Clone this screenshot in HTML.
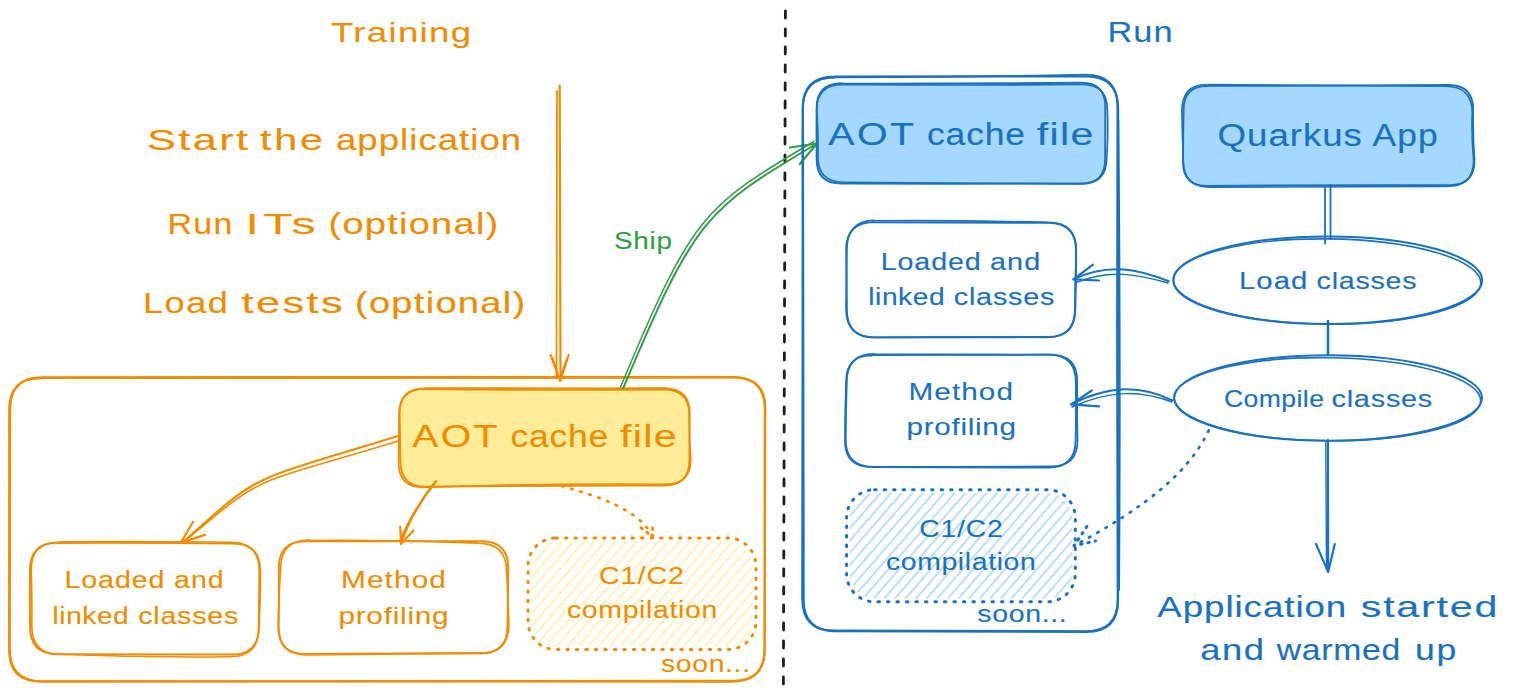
<!DOCTYPE html>
<html><head><meta charset="utf-8"><style>
html,body{margin:0;padding:0;background:#fff;width:1517px;height:696px;overflow:hidden}
svg{display:block}
text{font-family:"Liberation Sans",sans-serif}
</style></head><body>
<svg width="1517" height="696" viewBox="0 0 1517 696">
<defs>
<pattern id="hatchY" patternUnits="userSpaceOnUse" width="8" height="8" patternTransform="rotate(41)">
<line x1="4" y1="0" x2="4" y2="8" stroke="#ffec99" stroke-width="1.35"/></pattern>
<pattern id="hatchB" patternUnits="userSpaceOnUse" width="8" height="8" patternTransform="rotate(41)">
<line x1="4" y1="0" x2="4" y2="8" stroke="#a5d8ff" stroke-width="1.55"/></pattern>
</defs>
<line x1="785.4" y1="11" x2="783.4" y2="684" stroke="#1e1e1e" stroke-width="2.8" stroke-dasharray="7 11" stroke-linecap="round"/>
<text transform="translate(331.0,41.7) scale(1.308,1)" x="0" y="0" font-size="28" fill="#f08c00" stroke="#f08c00" stroke-width="0.1" textLength="107.1" lengthAdjust="spacing">Training</text>
<text transform="translate(147.0,150) scale(1.492,1)" x="0" y="0" font-size="29" fill="#f08c00" stroke="#f08c00" stroke-width="0.15" textLength="67.7" lengthAdjust="spacing">Start</text>
<text transform="translate(260.0,150) scale(1.429,1)" x="0" y="0" font-size="29" fill="#f08c00" stroke="#f08c00" stroke-width="0.15" textLength="44.1" lengthAdjust="spacing">the</text>
<text transform="translate(336.0,150) scale(1.260,1)" x="0" y="0" font-size="29" fill="#f08c00" stroke="#f08c00" stroke-width="0.15" textLength="146.9" lengthAdjust="spacing">application</text>
<text transform="translate(167.5,234) scale(1.174,1)" x="0" y="0" font-size="29" fill="#f08c00" stroke="#f08c00" stroke-width="0.15" textLength="55.4" lengthAdjust="spacing">Run</text>
<text transform="translate(245.6,234) scale(1.660,1)" x="0" y="0" font-size="29" fill="#f08c00" stroke="#f08c00" stroke-width="0.15" textLength="42.1" lengthAdjust="spacing">ITs</text>
<text transform="translate(328.5,234) scale(1.312,1)" x="0" y="0" font-size="29" fill="#f08c00" stroke="#f08c00" stroke-width="0.15" textLength="129.4" lengthAdjust="spacing">(optional)</text>
<text transform="translate(142.9,312.5) scale(1.247,1)" x="0" y="0" font-size="29" fill="#f08c00" stroke="#f08c00" stroke-width="0.15" textLength="68.2" lengthAdjust="spacing">Load</text>
<text transform="translate(241.5,312.5) scale(1.496,1)" x="0" y="0" font-size="29" fill="#f08c00" stroke="#f08c00" stroke-width="0.15" textLength="67.7" lengthAdjust="spacing">tests</text>
<text transform="translate(355.0,312.5) scale(1.315,1)" x="0" y="0" font-size="29" fill="#f08c00" stroke="#f08c00" stroke-width="0.15" textLength="129.4" lengthAdjust="spacing">(optional)</text>
<path d="M559.7,85.5 L560.5,380" fill="none" stroke="#f08c00" stroke-width="2.2" stroke-linecap="round" stroke-linejoin="round"/>
<path d="M557.0,91 L556.5,378" fill="none" stroke="#f08c00" stroke-width="1.8" stroke-linecap="round" stroke-linejoin="round"/>
<path d="M550.6,355 L560.2,380.8 L568.7,355" fill="none" stroke="#f08c00" stroke-width="2.2" stroke-linecap="round" stroke-linejoin="round"/>
<path d="M552.5,357 L559.5,379 L567,358" fill="none" stroke="#f08c00" stroke-width="1.4" stroke-linecap="round" stroke-linejoin="round"/>
<path d="M42.1,377.3 Q387.4,377.5 732.8,377.2 Q764.9,377.2 764.9,409.3 Q764.6,529.3 764.5,649.4 Q764.5,681.5 732.4,681.5 Q387.1,681.3 41.8,681.4 Q9.7,681.4 9.7,649.3 Q9.4,529.3 10.0,409.4 Q10.0,377.3 42.4,377.4" fill="none" stroke="#f08c00" stroke-width="2.3" stroke-linecap="round"/>
<path d="M40.2,378.2 Q387.3,377.7 734.3,377.5 Q765.4,377.5 765.4,408.6 Q765.0,529.1 764.7,649.6 Q764.7,680.7 733.6,680.7 Q386.9,680.0 40.1,681.5 Q9.0,681.5 9.0,650.3 Q9.0,529.8 9.1,409.3 Q9.1,378.2 40.1,378.5" fill="none" stroke="#f08c00" stroke-width="1.8399999999999999" stroke-linecap="round"/>
<rect x="399.5" y="388" width="290.1" height="98" rx="25" fill="#ffec99"/>
<path d="M425.1,388.2 Q544.6,388.5 664.1,388.3 Q689.6,388.3 689.6,413.8 Q689.4,437.0 689.5,460.1 Q689.5,485.6 664.0,485.6 Q544.9,485.3 425.8,486.8 Q400.3,486.8 400.3,461.2 Q400.0,437.5 399.5,413.8 Q399.5,388.2 424.4,388.4" fill="none" stroke="#f08c00" stroke-width="2" stroke-linecap="round"/>
<path d="M424.0,389.2 Q544.2,390.6 664.3,389.6 Q689.2,389.6 689.2,414.5 Q688.9,436.9 690.9,459.3 Q690.9,484.2 666.0,484.2 Q544.7,483.0 423.3,487.5 Q398.5,487.5 398.5,462.6 Q398.8,438.4 399.1,414.1 Q399.1,389.2 425.0,388.8" fill="none" stroke="#f08c00" stroke-width="1.6" stroke-linecap="round"/>
<text transform="translate(412.3,447) scale(1.262,1)" x="0" y="0" font-size="31" fill="#f08c00" stroke="#f08c00" stroke-width="0.15" textLength="67.5" lengthAdjust="spacing">AOT</text>
<text transform="translate(510.4,447) scale(1.143,1)" x="0" y="0" font-size="31" fill="#f08c00" stroke="#f08c00" stroke-width="0.15" textLength="85.5" lengthAdjust="spacing">cache</text>
<text transform="translate(620.0,447) scale(1.334,1)" x="0" y="0" font-size="31" fill="#f08c00" stroke="#f08c00" stroke-width="0.15" textLength="42.6" lengthAdjust="spacing">file</text>
<path d="M57.5,542.9 Q145.1,542.5 232.8,543.6 Q260.2,543.6 260.2,571.1 Q260.3,599.1 258.9,627.1 Q258.9,654.6 231.4,654.6 Q144.5,654.5 57.5,654.3 Q30.1,654.3 30.1,626.8 Q29.7,598.6 30.0,570.4 Q30.0,542.9 57.9,542.6" fill="none" stroke="#f08c00" stroke-width="2" stroke-linecap="round"/>
<path d="M59.6,541.8 Q145.2,541.0 230.8,542.2 Q259.2,542.2 259.2,570.6 Q258.9,599.4 258.7,628.3 Q258.7,656.7 230.3,656.7 Q145.2,657.7 60.2,654.3 Q31.8,654.3 31.8,625.9 Q32.2,598.1 31.2,570.2 Q31.2,541.8 58.2,542.7" fill="none" stroke="#f08c00" stroke-width="1.6" stroke-linecap="round"/>
<text transform="translate(64.5,588.2) scale(1.195,1)" x="0" y="0" font-size="24" fill="#f08c00" stroke="#f08c00" stroke-width="0.15" textLength="83.7" lengthAdjust="spacing">Loaded</text>
<text transform="translate(174.1,588.2) scale(1.187,1)" x="0" y="0" font-size="24" fill="#f08c00" stroke="#f08c00" stroke-width="0.15" textLength="41.8" lengthAdjust="spacing">and</text>
<text transform="translate(52.5,624) scale(1.169,1)" x="0" y="0" font-size="24" fill="#f08c00" stroke="#f08c00" stroke-width="0.15" textLength="65.2" lengthAdjust="spacing">linked</text>
<text transform="translate(138.2,624) scale(1.196,1)" x="0" y="0" font-size="24" fill="#f08c00" stroke="#f08c00" stroke-width="0.15" textLength="83.7" lengthAdjust="spacing">classes</text>
<path d="M305.4,541.2 Q393.5,541.3 481.6,541.3 Q508.2,541.3 508.2,567.9 Q508.1,597.3 507.5,626.7 Q507.5,653.3 480.9,653.3 Q393.1,653.3 305.2,654.1 Q278.6,654.1 278.6,627.5 Q279.2,597.7 278.8,567.8 Q278.8,541.2 305.4,541.3" fill="none" stroke="#f08c00" stroke-width="2" stroke-linecap="round"/>
<path d="M309.2,540.5 Q393.6,539.6 478.0,543.1 Q506.6,543.1 506.6,571.7 Q507.9,598.1 508.9,624.5 Q508.9,653.1 480.4,653.1 Q393.6,654.2 306.8,654.9 Q278.2,654.9 278.2,626.3 Q278.5,597.7 280.6,569.0 Q280.6,540.5 308.9,539.7" fill="none" stroke="#f08c00" stroke-width="1.6" stroke-linecap="round"/>
<text transform="translate(341.0,587.6) scale(1.242,1)" x="0" y="0" font-size="24" fill="#f08c00" stroke="#f08c00" stroke-width="0.1" textLength="84.5" lengthAdjust="spacing">Method</text>
<text transform="translate(338.4,623.5) scale(1.243,1)" x="0" y="0" font-size="24" fill="#f08c00" stroke="#f08c00" stroke-width="0.1" textLength="88.7" lengthAdjust="spacing">profiling</text>
<rect x="531" y="541" width="222" height="105.5" rx="26" fill="url(#hatchY)"/>
<rect x="528" y="538" width="228" height="111.5" rx="28" fill="none" stroke="#f08c00" stroke-width="3" stroke-dasharray="1.5 8" stroke-linecap="round"/>
<text transform="translate(599.0,583.6) scale(1.195,1)" x="0" y="0" font-size="24" fill="#f08c00" stroke="#f08c00" stroke-width="0.1" textLength="71.1" lengthAdjust="spacing">C1/C2</text>
<text transform="translate(567.0,618) scale(1.186,1)" x="0" y="0" font-size="24" fill="#f08c00" stroke="#f08c00" stroke-width="0.1" textLength="126.7" lengthAdjust="spacing">compilation</text>
<text transform="translate(661.0,672) scale(1.184,1)" x="0" y="0" font-size="24" fill="#f08c00" stroke="#f08c00" stroke-width="0.1" textLength="75.2" lengthAdjust="spacing">soon...</text>
<path d="M398,436 C244.1,483.7 264.9,469.4 182,543" fill="none" stroke="#f08c00" stroke-width="2.1" stroke-linecap="round" stroke-linejoin="round"/>
<path d="M400,440.5 C247,487 267,472 185,541" fill="none" stroke="#f08c00" stroke-width="1.6" stroke-linecap="round" stroke-linejoin="round"/>
<path d="M193,521.8 L181,542.6 L205,534.9" fill="none" stroke="#f08c00" stroke-width="2.2" stroke-linecap="round" stroke-linejoin="round"/>
<path d="M436,481.3 C425,495 410,515 401,543.8" fill="none" stroke="#f08c00" stroke-width="2.4" stroke-linecap="round" stroke-linejoin="round"/>
<path d="M433.5,484 C423,498 408.5,518 400,541" fill="none" stroke="#f08c00" stroke-width="1.6" stroke-linecap="round" stroke-linejoin="round"/>
<path d="M400.2,526.5 L401,543.8 L413.5,530.5" fill="none" stroke="#f08c00" stroke-width="2.2" stroke-linecap="round" stroke-linejoin="round"/>
<path d="M562,486 C600,497 640,510 652.8,537" fill="none" stroke="#f08c00" stroke-width="2.7" stroke-linecap="round" stroke-linejoin="round" stroke-dasharray="1.5 8"/>
<path d="M641,527.8 L652.8,537 L652.8,522" fill="none" stroke="#f08c00" stroke-width="3" stroke-linecap="round" stroke-linejoin="round" stroke-dasharray="1.5 6"/>
<path d="M623.3,388 C695.1,218 704.7,209.9 817,143.5" fill="none" stroke="#2f9e44" stroke-width="2" stroke-linecap="round" stroke-linejoin="round"/>
<path d="M620.5,387 C692,216 702,207 814,141.5" fill="none" stroke="#2f9e44" stroke-width="1.5" stroke-linecap="round" stroke-linejoin="round"/>
<path d="M790,147.5 L817,143.5 L799.8,164" fill="none" stroke="#2f9e44" stroke-width="2.2" stroke-linecap="round" stroke-linejoin="round"/>
<text transform="translate(614.0,248.5) scale(1.163,1)" x="0" y="0" font-size="24" fill="#2f9e44" stroke="#2f9e44" stroke-width="0.1" textLength="49.9" lengthAdjust="spacing">Ship</text>
<text transform="translate(1107.4,41.8) scale(1.145,1)" x="0" y="0" font-size="30" fill="#1971c2" stroke="#1971c2" stroke-width="0.1" textLength="56.9" lengthAdjust="spacing">Run</text>
<path d="M834.5,76.7 Q960.4,76.9 1086.4,76.3 Q1118.0,76.3 1118.0,108.0 Q1117.6,354.1 1118.0,600.2 Q1118.0,631.8 1086.4,631.8 Q960.8,631.5 835.1,631.2 Q803.5,631.2 803.5,599.5 Q803.6,353.9 802.8,108.3 Q802.8,76.7 834.9,76.7" fill="none" stroke="#1971c2" stroke-width="2.3" stroke-linecap="round"/>
<path d="M834.4,77.3 Q960.1,77.4 1085.8,74.7 Q1117.5,74.7 1117.5,106.4 Q1116.6,353.0 1117.7,599.6 Q1117.7,631.2 1086.0,631.2 Q959.9,630.9 833.8,630.5 Q802.2,630.5 802.2,598.9 Q803.0,353.9 802.8,108.9 Q802.8,77.3 835.8,77.5" fill="none" stroke="#1971c2" stroke-width="1.8399999999999999" stroke-linecap="round"/>
<path d="M1118.5,120 Q1120.8,350 1119.2,590" fill="none" stroke="#1971c2" stroke-width="1.6" stroke-linecap="round" stroke-linejoin="round"/>
<path d="M802.5,130 Q801.5,380 802.5,600" fill="none" stroke="#1971c2" stroke-width="1.4" stroke-linecap="round" stroke-linejoin="round"/>
<rect x="816.4" y="83.5" width="289.6" height="99.30000000000001" rx="25" fill="#a5d8ff"/>
<path d="M840.9,83.6 Q961.1,83.8 1081.2,82.8 Q1105.4,82.8 1105.4,107.0 Q1105.4,133.1 1105.2,159.2 Q1105.2,183.5 1081.0,183.5 Q961.0,183.8 841.0,183.5 Q816.7,183.5 816.7,159.3 Q816.5,133.6 816.7,107.9 Q816.7,83.6 841.7,83.3" fill="none" stroke="#1971c2" stroke-width="2" stroke-linecap="round"/>
<path d="M842.2,84.4 Q962.0,85.5 1081.8,84.4 Q1107.4,84.4 1107.4,110.0 Q1108.5,134.1 1106.7,158.2 Q1106.7,183.9 1081.1,183.9 Q962.3,183.6 843.6,182.3 Q817.9,182.3 817.9,156.6 Q818.7,133.3 816.6,110.0 Q816.6,84.4 843.5,84.5" fill="none" stroke="#1971c2" stroke-width="1.6" stroke-linecap="round"/>
<text transform="translate(828.3,144.7) scale(1.269,1)" x="0" y="0" font-size="31" fill="#1971c2" stroke="#1971c2" stroke-width="0.15" textLength="67.6" lengthAdjust="spacing">AOT</text>
<text transform="translate(927.0,144.7) scale(1.145,1)" x="0" y="0" font-size="31" fill="#1971c2" stroke="#1971c2" stroke-width="0.15" textLength="85.6" lengthAdjust="spacing">cache</text>
<text transform="translate(1036.8,144.7) scale(1.330,1)" x="0" y="0" font-size="31" fill="#1971c2" stroke="#1971c2" stroke-width="0.15" textLength="42.6" lengthAdjust="spacing">file</text>
<path d="M873.6,222.3 Q961.1,222.2 1048.7,222.7 Q1076.0,222.7 1076.0,250.0 Q1076.3,279.8 1075.2,309.7 Q1075.2,337.0 1047.9,337.0 Q961.0,337.1 874.2,337.4 Q846.8,337.4 846.8,310.0 Q846.7,279.9 846.2,249.7 Q846.2,222.3 874.1,222.0" fill="none" stroke="#1971c2" stroke-width="2" stroke-linecap="round"/>
<path d="M875.4,220.8 Q961.6,220.1 1047.8,222.4 Q1076.3,222.4 1076.3,250.9 Q1074.9,280.0 1074.9,309.0 Q1074.9,337.5 1046.4,337.5 Q960.5,336.9 874.5,337.2 Q846.0,337.2 846.0,308.7 Q846.5,279.0 846.9,249.3 Q846.9,220.8 874.3,220.2" fill="none" stroke="#1971c2" stroke-width="1.6" stroke-linecap="round"/>
<text transform="translate(880.7,270) scale(1.196,1)" x="0" y="0" font-size="24" fill="#1971c2" stroke="#1971c2" stroke-width="0.15" textLength="83.7" lengthAdjust="spacing">Loaded</text>
<text transform="translate(990.0,270) scale(1.198,1)" x="0" y="0" font-size="24" fill="#1971c2" stroke="#1971c2" stroke-width="0.15" textLength="41.9" lengthAdjust="spacing">and</text>
<text transform="translate(868.2,304.6) scale(1.172,1)" x="0" y="0" font-size="24" fill="#1971c2" stroke="#1971c2" stroke-width="0.15" textLength="65.2" lengthAdjust="spacing">linked</text>
<text transform="translate(953.8,304.6) scale(1.200,1)" x="0" y="0" font-size="24" fill="#1971c2" stroke="#1971c2" stroke-width="0.15" textLength="83.8" lengthAdjust="spacing">classes</text>
<path d="M874.2,354.3 Q961.3,354.8 1048.4,354.6 Q1075.9,354.6 1075.9,382.1 Q1076.4,411.0 1075.7,440.0 Q1075.7,467.5 1048.2,467.5 Q960.7,467.3 873.1,467.1 Q845.6,467.1 845.6,439.6 Q845.7,410.7 846.7,381.7 Q846.7,354.3 873.9,354.0" fill="none" stroke="#1971c2" stroke-width="2" stroke-linecap="round"/>
<path d="M872.3,355.2 Q961.7,354.4 1051.1,354.8 Q1077.3,354.8 1077.3,381.0 Q1077.0,410.6 1077.6,440.2 Q1077.6,466.4 1051.4,466.4 Q961.3,466.8 871.1,467.0 Q844.9,467.0 844.9,440.8 Q844.9,411.1 846.1,381.4 Q846.1,355.2 871.6,355.8" fill="none" stroke="#1971c2" stroke-width="1.6" stroke-linecap="round"/>
<text transform="translate(908.5,400.4) scale(1.238,1)" x="0" y="0" font-size="24" fill="#1971c2" stroke="#1971c2" stroke-width="0.1" textLength="84.4" lengthAdjust="spacing">Method</text>
<text transform="translate(906.5,434.6) scale(1.236,1)" x="0" y="0" font-size="24" fill="#1971c2" stroke="#1971c2" stroke-width="0.1" textLength="88.6" lengthAdjust="spacing">profiling</text>
<rect x="849.6" y="492.7" width="222.69999999999993" height="106.09999999999997" rx="26" fill="url(#hatchB)"/>
<rect x="846.6" y="489.7" width="228.69999999999993" height="112.09999999999997" rx="28" fill="none" stroke="#1971c2" stroke-width="3" stroke-dasharray="1.5 8" stroke-linecap="round"/>
<text transform="translate(919.3,536.6) scale(1.177,1)" x="0" y="0" font-size="24" fill="#1971c2" stroke="#1971c2" stroke-width="0.1" textLength="70.9" lengthAdjust="spacing">C1/C2</text>
<text transform="translate(886.0,569.8) scale(1.183,1)" x="0" y="0" font-size="24" fill="#1971c2" stroke="#1971c2" stroke-width="0.1" textLength="126.6" lengthAdjust="spacing">compilation</text>
<text transform="translate(977.3,622) scale(1.189,1)" x="0" y="0" font-size="24" fill="#1971c2" stroke="#1971c2" stroke-width="0.1" textLength="75.2" lengthAdjust="spacing">soon...</text>
<rect x="1182.7" y="85.8" width="291.0999999999999" height="100.2" rx="25" fill="#a5d8ff"/>
<path d="M1208.2,85.7 Q1328.3,86.1 1448.4,85.1 Q1473.1,85.1 1473.1,109.7 Q1472.5,135.2 1474.4,160.6 Q1474.4,185.3 1449.7,185.3 Q1328.7,184.8 1207.7,186.1 Q1183.0,186.1 1183.0,161.4 Q1183.0,135.9 1183.5,110.4 Q1183.5,85.7 1207.4,86.0" fill="none" stroke="#1971c2" stroke-width="2" stroke-linecap="round"/>
<path d="M1208.4,84.5 Q1327.0,85.0 1445.5,86.3 Q1472.2,86.3 1472.2,112.9 Q1471.3,136.4 1473.6,159.8 Q1473.6,186.5 1447.0,186.5 Q1328.4,186.4 1209.9,187.1 Q1183.3,187.1 1183.3,160.5 Q1182.3,135.8 1181.8,111.2 Q1181.8,84.5 1206.6,84.5" fill="none" stroke="#1971c2" stroke-width="1.6" stroke-linecap="round"/>
<text transform="translate(1217.6,146) scale(1.181,1)" x="0" y="0" font-size="31" fill="#1971c2" stroke="#1971c2" stroke-width="0.15" textLength="122.1" lengthAdjust="spacing">Quarkus</text>
<text transform="translate(1372.6,146) scale(1.143,1)" x="0" y="0" font-size="31" fill="#1971c2" stroke="#1971c2" stroke-width="0.15" textLength="57.0" lengthAdjust="spacing">App</text>
<path d="M1325,187 L1325,243.6" fill="none" stroke="#1971c2" stroke-width="1.8" stroke-linecap="round" stroke-linejoin="round"/>
<path d="M1330.5,185 L1330.5,239" fill="none" stroke="#1971c2" stroke-width="1.8" stroke-linecap="round" stroke-linejoin="round"/>
<ellipse cx="1327.7" cy="280.3" rx="154.5" ry="43.8" fill="none" stroke="#1971c2" stroke-width="2"/>
<ellipse cx="1327.2" cy="281.5" rx="153.7" ry="42.599999999999994" fill="none" stroke="#1971c2" stroke-width="1.6" transform="rotate(0.6 1327.7 280.3)"/>
<text transform="translate(1239.0,289.4) scale(1.219,1)" x="0" y="0" font-size="24" fill="#1971c2" stroke="#1971c2" stroke-width="0.15" textLength="56.1" lengthAdjust="spacing">Load</text>
<text transform="translate(1316.6,289.4) scale(1.194,1)" x="0" y="0" font-size="24" fill="#1971c2" stroke="#1971c2" stroke-width="0.15" textLength="83.7" lengthAdjust="spacing">classes</text>
<path d="M1328,321 L1328,354.4" fill="none" stroke="#1971c2" stroke-width="2.6" stroke-linecap="round" stroke-linejoin="round"/>
<ellipse cx="1328" cy="398" rx="154" ry="42.7" fill="none" stroke="#1971c2" stroke-width="2"/>
<ellipse cx="1327.5" cy="399.2" rx="153.2" ry="41.5" fill="none" stroke="#1971c2" stroke-width="1.6" transform="rotate(0.6 1328 398)"/>
<text transform="translate(1224.0,406.7) scale(1.107,1)" x="0" y="0" font-size="24" fill="#1971c2" stroke="#1971c2" stroke-width="0.15" textLength="90.3" lengthAdjust="spacing">Compile</text>
<text transform="translate(1331.5,406.7) scale(1.203,1)" x="0" y="0" font-size="24" fill="#1971c2" stroke="#1971c2" stroke-width="0.15" textLength="83.8" lengthAdjust="spacing">classes</text>
<path d="M1328,440 L1328.1,571.9" fill="none" stroke="#1971c2" stroke-width="2.2" stroke-linecap="round" stroke-linejoin="round"/>
<path d="M1325.8,441 L1326.5,569" fill="none" stroke="#1971c2" stroke-width="1.4" stroke-linecap="round" stroke-linejoin="round"/>
<path d="M1316,543.9 L1328.1,571.9 L1334.8,544" fill="none" stroke="#1971c2" stroke-width="2.2" stroke-linecap="round" stroke-linejoin="round"/>
<text transform="translate(1157.3,616.7) scale(1.224,1)" x="0" y="0" font-size="30" fill="#1971c2" stroke="#1971c2" stroke-width="0.15" textLength="154.4" lengthAdjust="spacing">Application</text>
<text transform="translate(1360.8,616.7) scale(1.375,1)" x="0" y="0" font-size="30" fill="#1971c2" stroke="#1971c2" stroke-width="0.15" textLength="99.3" lengthAdjust="spacing">started</text>
<text transform="translate(1200.3,659.6) scale(1.213,1)" x="0" y="0" font-size="30" fill="#1971c2" stroke="#1971c2" stroke-width="0.15" textLength="52.5" lengthAdjust="spacing">and</text>
<text transform="translate(1276.8,659.6) scale(1.124,1)" x="0" y="0" font-size="30" fill="#1971c2" stroke="#1971c2" stroke-width="0.15" textLength="109.9" lengthAdjust="spacing">warmed</text>
<text transform="translate(1415.0,659.6) scale(1.186,1)" x="0" y="0" font-size="30" fill="#1971c2" stroke="#1971c2" stroke-width="0.15" textLength="34.8" lengthAdjust="spacing">up</text>
<path d="M1168.7,281.3 C1140,270 1110,262 1073.4,279.3" fill="none" stroke="#1971c2" stroke-width="2" stroke-linecap="round" stroke-linejoin="round"/>
<path d="M1168,283 C1140,275 1110,268 1075,283" fill="none" stroke="#1971c2" stroke-width="1.4" stroke-linecap="round" stroke-linejoin="round"/>
<path d="M1093,264.7 L1073.4,279.3 L1099,280.5" fill="none" stroke="#1971c2" stroke-width="2.2" stroke-linecap="round" stroke-linejoin="round"/>
<path d="M1172.4,400.3 C1140,385 1110,385 1071,404.4" fill="none" stroke="#1971c2" stroke-width="2" stroke-linecap="round" stroke-linejoin="round"/>
<path d="M1172,402 C1140,390 1110,390 1072,407" fill="none" stroke="#1971c2" stroke-width="1.4" stroke-linecap="round" stroke-linejoin="round"/>
<path d="M1091.8,390.5 L1071,404.4 L1099,406.4" fill="none" stroke="#1971c2" stroke-width="2.2" stroke-linecap="round" stroke-linejoin="round"/>
<path d="M1208.7,430.5 C1190,470 1150,505 1074,545.7" fill="none" stroke="#1971c2" stroke-width="2.7" stroke-linecap="round" stroke-linejoin="round" stroke-dasharray="1.5 8"/>
<path d="M1087,526.4 L1074,545.7 L1095.5,541" fill="none" stroke="#1971c2" stroke-width="3" stroke-linecap="round" stroke-linejoin="round" stroke-dasharray="1.5 6"/>
</svg></body></html>
